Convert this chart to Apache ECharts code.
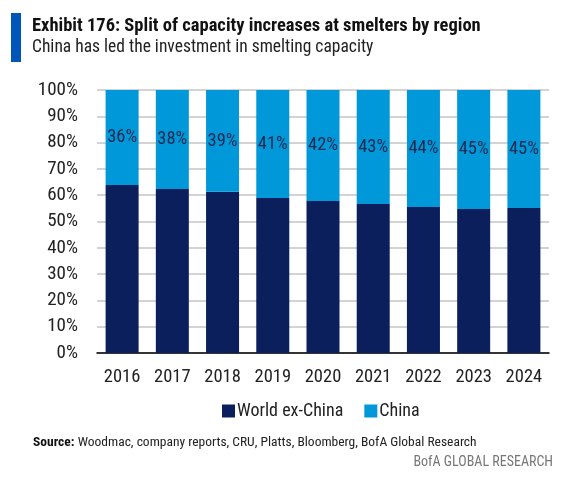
<!DOCTYPE html>
<html><head><meta charset="utf-8">
<script src="https://cdn.jsdelivr.net/npm/echarts@6/dist/echarts.min.js"></script>
<style>html,body{margin:0;padding:0;background:#fff}#c{width:577px;height:478px}</style>
</head><body><div id="c"></div>
<script>
var categories = ['2016','2017','2018','2019','2020','2021','2022','2023','2024'];
var worldExChina = [63.9, 62.4, 61.3, 58.9, 57.8, 56.7, 55.5, 54.8, 55.1];
var china = [36.1, 37.6, 38.7, 41.1, 42.2, 43.3, 44.5, 45.2, 44.9];
var chinaLabels = ['36%','38%','39%','41%','42%','43%','44%','45%','45%'];
var yTicks = [0,10,20,30,40,50,60,70,80,90,100];

var FONT = '"Roboto Condensed", sans-serif';
var chart = echarts.init(document.getElementById('c'), null, {renderer:'canvas'});
chart.setOption({
  animation:false,
  textStyle:{fontFamily:FONT},
  graphic:[
    {type:'rect', shape:{x:11,y:13,width:10,height:49}, style:{fill:'#0055b8'}},
    {type:'text', left:32, top:17, style:{text:'Exhibit 176: Split of capacity increases at smelters by region', font:'bold 18.5px '+FONT, fill:'#111'}},
    {type:'text', left:32, top:39, style:{text:'China has led the investment in smelting capacity', font:'17.5px '+FONT, fill:'#222'}},
    {type:'text', left:33, top:436, style:{rich:{b:{font:'bold 13.5px '+FONT, fill:'#111'}, n:{font:'13.5px '+FONT, fill:'#222'}}, text:'{b|Source:} {n|Woodmac, company reports, CRU, Platts, Bloomberg, BofA Global Research}'}},
    {type:'text', right:24, top:455, style:{text:'BofA GLOBAL RESEARCH', font:'14px '+FONT, fill:'#777'}}
  ],
  grid:{left:97, right:28, top:90, bottom:125, containLabel:false},
  legend:{
    top:397, left:217, itemWidth:13, itemHeight:13, itemGap:21,
    icon:'rect',
    textStyle:{fontSize:18, color:'#222', fontFamily:FONT, padding:[0,0,0,-3]},
    data:['World ex-China','China']
  },
  xAxis:{
    type:'category', data:categories,
    axisLine:{lineStyle:{color:'#000', width:1.5}},
    axisTick:{show:false},
    axisLabel:{interval:0, fontSize:18.5, color:'#222', margin:15, fontFamily:FONT}
  },
  yAxis:{
    type:'value', min:0, max:100, interval:10,
    axisLabel:{fontSize:19, color:'#222', margin:19, fontFamily:FONT,
      formatter:function(v){return yTicks.indexOf(v)>=0? v+'%':'';}},
    splitLine:{lineStyle:{color:'#c4c4c4', width:1.5}},
    axisLine:{show:false}, axisTick:{show:false}
  },
  series:[
    {name:'World ex-China', type:'bar', stack:'a', data:worldExChina, barWidth:33,
      itemStyle:{color:'#0a1f5c'}},
    {name:'China', type:'bar', stack:'a', data:china, barWidth:33,
      itemStyle:{color:'#0098d8'},
      label:{show:true, position:'inside', fontSize:18.5, color:'#1a2a50', fontFamily:FONT,
        formatter:function(p){return chinaLabels[p.dataIndex];}}}
  ]
});
</script></body></html>
